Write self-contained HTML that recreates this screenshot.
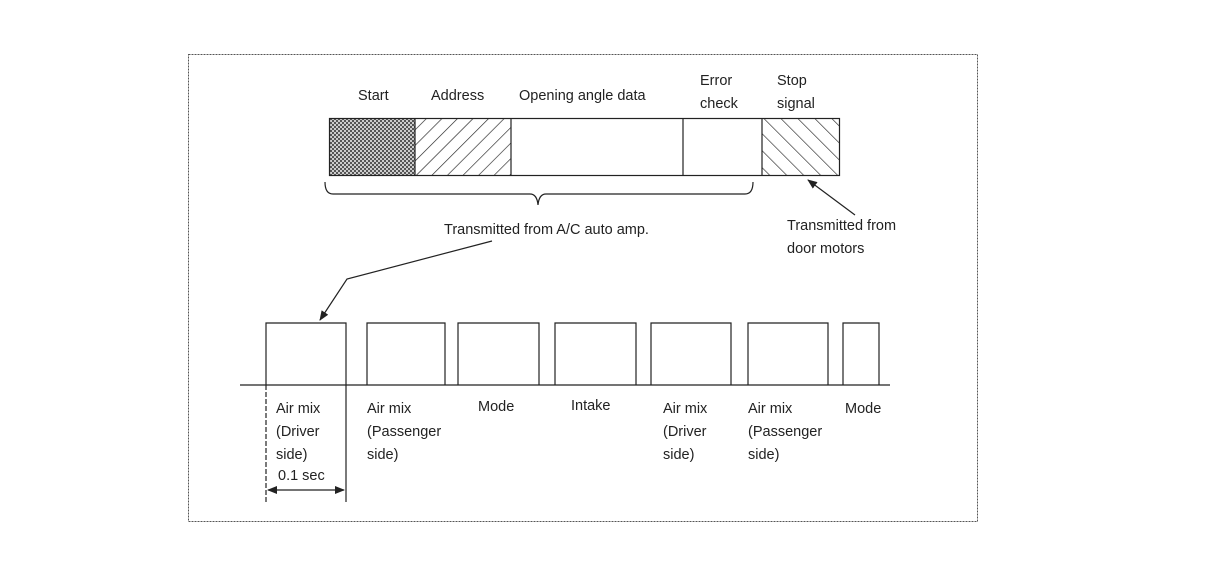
<!DOCTYPE html>
<html><head><meta charset="utf-8"><style>
html,body{margin:0;padding:0;background:#fff;}
svg{display:block;}
text{font-family:"Liberation Sans",sans-serif;font-size:14.5px;fill:#222;}
</style></head><body>
<svg width="1216" height="582" viewBox="0 0 1216 582" xmlns="http://www.w3.org/2000/svg">
<defs>
<pattern id="chk" width="4" height="4" patternUnits="userSpaceOnUse">
<rect width="4" height="4" fill="#ccc"/><rect width="2" height="2" fill="#555"/><rect x="2" y="2" width="2" height="2" fill="#555"/>
</pattern>
<pattern id="fwd" width="11" height="11" patternUnits="userSpaceOnUse" patternTransform="rotate(45)">
<line x1="0" y1="0" x2="0" y2="11" stroke="#222" stroke-width="1.3"/>
</pattern>
<pattern id="bwd" width="12" height="12" patternUnits="userSpaceOnUse" patternTransform="rotate(-45)">
<line x1="0" y1="0" x2="0" y2="12" stroke="#222" stroke-width="1.3"/>
</pattern>
<marker id="ah" markerWidth="10" markerHeight="8" refX="9" refY="4" orient="auto" markerUnits="userSpaceOnUse">
<path d="M0,0 L10,4 L0,8 z" fill="#222"/>
</marker>
<marker id="ahs" markerWidth="10" markerHeight="8" refX="1" refY="4" orient="auto" markerUnits="userSpaceOnUse">
<path d="M10,0 L0,4 L10,8 z" fill="#222"/>
</marker>
</defs>
<rect x="188.5" y="54.5" width="789" height="467" fill="none" stroke="#555" stroke-width="1" stroke-dasharray="2,1"/>

<rect x="329" y="118" width="86" height="58" fill="url(#chk)"/>
<rect x="415" y="118" width="96" height="58" fill="url(#fwd)"/>
<rect x="762" y="118" width="78" height="58" fill="url(#bwd)"/>
<rect x="329.5" y="118.5" width="510" height="57" fill="none" stroke="#222" stroke-width="1.2"/>
<g stroke="#222" stroke-width="1.2">
<line x1="415" y1="118" x2="415" y2="176"/>
<line x1="511" y1="118" x2="511" y2="176"/>
<line x1="683" y1="118" x2="683" y2="176"/>
<line x1="762" y1="118" x2="762" y2="176"/>
</g>
<text x="358" y="100">Start</text>
<text x="431" y="100">Address</text>
<text x="519" y="100">Opening angle data</text>
<text x="700" y="85">Error</text>
<text x="700" y="108">check</text>
<text x="777" y="85">Stop</text>
<text x="777" y="108">signal</text>

<path d="M325,182 Q325,194 333,194 L530,194 Q537,194 538,205 Q539,194 546,194 L745,194 Q753,194 753,182" fill="none" stroke="#222" stroke-width="1.2"/>

<text x="444" y="234">Transmitted from A/C auto amp.</text>
<text x="787" y="230">Transmitted from</text>
<text x="787" y="253">door motors</text>

<line x1="855" y1="215" x2="808" y2="180" stroke="#222" stroke-width="1.2" marker-end="url(#ah)"/>
<polyline points="492,241 347,279 320,320" fill="none" stroke="#222" stroke-width="1.2" marker-end="url(#ah)"/>

<g fill="none" stroke="#222" stroke-width="1.2">
<line x1="240" y1="385" x2="890" y2="385"/>
<path d="M266,385 V323 H346 V385"/>
<path d="M367,385 V323 H445 V385"/>
<path d="M458,385 V323 H539 V385"/>
<path d="M555,385 V323 H636 V385"/>
<path d="M651,385 V323 H731 V385"/>
<path d="M748,385 V323 H828 V385"/>
<path d="M843,385 V323 H879 V385"/>
<line x1="266" y1="385" x2="266" y2="502" stroke-dasharray="5,2"/>
<line x1="346" y1="385" x2="346" y2="502"/>
<line x1="268" y1="490" x2="344" y2="490" marker-end="url(#ah)" marker-start="url(#ahs)"/>
</g>
<text x="276" y="413">Air mix</text>
<text x="276" y="436">(Driver</text>
<text x="276" y="459">side)</text>
<text x="278" y="480">0.1 sec</text>
<text x="367" y="413">Air mix</text>
<text x="367" y="436">(Passenger</text>
<text x="367" y="459">side)</text>
<text x="478" y="411">Mode</text>
<text x="571" y="410">Intake</text>
<text x="663" y="413">Air mix</text>
<text x="663" y="436">(Driver</text>
<text x="663" y="459">side)</text>
<text x="748" y="413">Air mix</text>
<text x="748" y="436">(Passenger</text>
<text x="748" y="459">side)</text>
<text x="845" y="413">Mode</text>
</svg>
</body></html>
